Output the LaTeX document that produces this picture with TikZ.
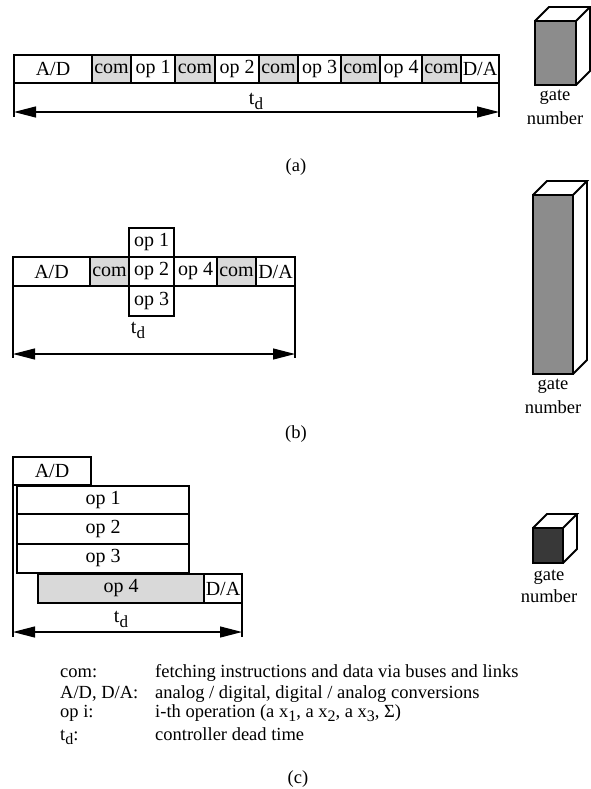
\documentclass[tikz,border=0pt]{standalone}
\usepackage{fontspec}
\setmainfont{Liberation Serif}
\usetikzlibrary{arrows.meta}
\newcommand\tsub[1]{\raisebox{-0.55ex}{\fontsize{17}{17}\selectfont #1}}
\newcommand\lsub[1]{\raisebox{-0.5ex}{\fontsize{16}{16}\selectfont #1}}
\begin{document}
\begin{tikzpicture}[x=1pt,y=-1pt,
  cell/.style={draw, line width=1.2pt, anchor=north west, inner sep=0pt, outer sep=0pt,
    font=\fontsize{20}{20}\selectfont, minimum height=28pt},
  comcell/.style={cell, fill=black!15},
  dimarrow/.style={line width=1.2pt, {Triangle[length=22pt,width=11pt]}-{Triangle[length=22pt,width=11pt]}},
  tickline/.style={line width=1.2pt},
  cubeline/.style={line width=1.8pt, line join=miter},
  lbl/.style={font=\fontsize{18.5}{20}\selectfont, inner sep=0pt},
  tdl/.style={font=\fontsize{20}{20}\selectfont, inner sep=0pt},
]
\useasboundingbox (0,0) rectangle (591,789);

% ---------- (a) ----------
\node[cell, minimum width=78pt] (a1) at (14,55) {A/D};
\node[comcell, minimum width=39pt] (a2) at (a1.north east) {com};
\node[cell, minimum width=44pt] (a3) at (a2.north east) {op 1};
\node[comcell, minimum width=40pt] (a4) at (a3.north east) {com};
\node[cell, minimum width=44pt] (a5) at (a4.north east) {op 2};
\node[comcell, minimum width=39pt] (a6) at (a5.north east) {com};
\node[cell, minimum width=43pt] (a7) at (a6.north east) {op 3};
\node[comcell, minimum width=39pt] (a8) at (a7.north east) {com};
\node[cell, minimum width=42pt] (a9) at (a8.north east) {op 4};
\node[comcell, minimum width=39pt] (a10) at (a9.north east) {com};
\node[cell, minimum width=38pt] (a11) at (a10.north east) {D/A};
\coordinate (aTL) at (14,117);
\coordinate (aTR) at (499,117);
\coordinate (aAL) at (14,112);
\coordinate (aAR) at (499,112);
\draw[tickline] (a1.south west) -- (aTL);
\draw[tickline] (a11.south east) -- (aTR);
\draw[dimarrow] (aAL) -- (aAR);
\node[tdl] (atd) at (256,101) {t\tsub{d}};

% cube (a)
\fill[black!45] (535,21) rectangle (576,85);
\draw[cubeline] (535,21) rectangle (576,85);
\draw[cubeline] (535,21) -- (549,7) -- (590,7) -- (576,21);
\draw[cubeline] (590,7) -- (590,71) -- (576,85);
\node[lbl] (ag) at (555,97) {gate};
\node[lbl] (an) at (555,118) {number};
\node[lbl] (alab) at (296,167) {(a)};

% ---------- (b) ----------
\node[cell, minimum width=77pt, minimum height=29pt] (b1) at (13,257) {A/D};
\node[comcell, minimum width=39pt, minimum height=29pt] (b2) at (b1.north east) {com};
\node[cell, minimum width=45pt, minimum height=29pt] (b3) at (b2.north east) {op 2};
\node[cell, minimum width=43pt, minimum height=29pt] (b4) at (b3.north east) {op 4};
\node[comcell, minimum width=39pt, minimum height=29pt] (b5) at (b4.north east) {com};
\node[cell, minimum width=39pt, minimum height=29pt] (b6) at (b5.north east) {D/A};
\node[cell, minimum width=45pt, minimum height=29pt, anchor=south west] (bop1) at (b3.north west) {op 1};
\node[cell, minimum width=45pt, minimum height=30pt] (bop3) at (b3.south west) {op 3};
\coordinate (bTL) at (13,358);
\coordinate (bTR) at (295,358);
\coordinate (bAL) at (13,354);
\coordinate (bAR) at (295,354);
\draw[tickline] (b1.south west) -- (bTL);
\draw[tickline] (b6.south east) -- (bTR);
\draw[dimarrow] (bAL) -- (bAR);
\node[tdl] (btd) at (138,330) {t\tsub{d}};

% cube (b)
\fill[black!45] (533,195) rectangle (573,374);
\draw[cubeline] (533,195) rectangle (573,374);
\draw[cubeline] (533,195) -- (547,181) -- (587,181) -- (573,195);
\draw[cubeline] (587,181) -- (587,360) -- (573,374);
\node[lbl] (bg) at (553,386) {gate};
\node[lbl] (bn) at (553,407) {number};
\node[lbl] (blab) at (296,434) {(b)};

% ---------- (c) ----------
\node[cell, minimum width=78pt] (c1) at (13,457) {A/D};
\node[cell, minimum width=172pt] (c2) at (17,486) {op 1};
\node[cell, minimum width=172pt, minimum height=30pt] (c3) at (c2.south west) {op 2};
\node[cell, minimum width=172pt, minimum height=29pt] (c4) at (c3.south west) {op 3};
\node[comcell, minimum width=166pt, minimum height=29pt] (c5) at (38,574) {op 4};
\node[cell, minimum width=38pt, minimum height=29pt] (c6) at (c5.north east) {D/A};
\coordinate (cTL) at (13,637);
\coordinate (cTR) at (242,637);
\coordinate (cAL) at (13,632);
\coordinate (cAR) at (242,632);
\draw[tickline] (c1.south west) -- (cTL);
\draw[tickline] (c6.south east) -- (cTR);
\draw[dimarrow] (cAL) -- (cAR);
\node[tdl] (ctd) at (121,619) {t\tsub{d}};

% cube (c)
\fill[black!78] (533,528) rectangle (563,563);
\draw[cubeline] (533,528) rectangle (563,563);
\draw[cubeline] (533,528) -- (547,514) -- (577,514) -- (563,528);
\draw[cubeline] (577,514) -- (577,549) -- (563,563);
\node[lbl] (cg) at (549,577) {gate};
\node[lbl] (cn) at (549,596) {number};

% legend
\node[lbl, anchor=base west] (k1) at (60,677) {com:};
\node[lbl, anchor=base west] (v1) at (155,677) {fetching instructions and data via buses and links};
\node[lbl, anchor=base west] (k2) at (60,698) {A/D, D/A:};
\node[lbl, anchor=base west] (v2) at (155,698) {analog / digital, digital / analog conversions};
\node[lbl, anchor=base west] (k3) at (60,717) {op i:};
\node[lbl, anchor=base west] (v3) at (155,717) {i-th operation (a x\lsub{1}, a x\lsub{2}, a x\lsub{3}, Σ)};
\node[lbl, anchor=base west] (k4) at (60,740) {t\lsub{d}:};
\node[lbl, anchor=base west] (v4) at (155,740) {controller dead time};
\node[lbl] (clab) at (298,779) {(c)};
\end{tikzpicture}
\end{document}
